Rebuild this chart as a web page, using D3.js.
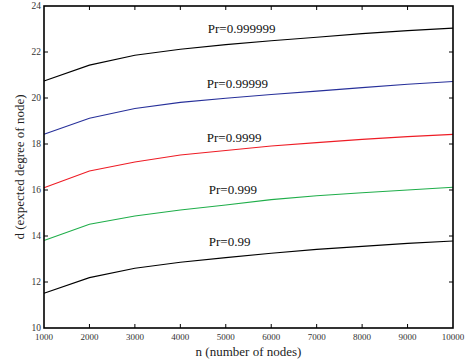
<!DOCTYPE html>
<html><head><meta charset="utf-8">
<script src="https://cdn.jsdelivr.net/npm/d3@7"></script>
<style>body{margin:0;background:#fff}svg{display:block}text{font-family:"Liberation Serif","Times New Roman",Times,serif}</style>
</head><body>
<svg id="c" width="466" height="362"></svg>
<script>
const nValues = [1000,2000,3000,4000,5000,6000,7000,8000,9000,10000];
const seriesNames = ["Pr=0.99","Pr=0.999","Pr=0.9999","Pr=0.99999","Pr=0.999999"];
const pr099 = [11.51,12.19,12.6,12.86,13.06,13.25,13.42,13.55,13.68,13.78];
const pr0999 = [13.8,14.51,14.87,15.13,15.35,15.58,15.75,15.88,16.0,16.12];
const pr09999 = [16.1,16.83,17.22,17.52,17.72,17.91,18.06,18.2,18.32,18.42];
const pr099999 = [18.42,19.12,19.54,19.81,19.99,20.15,20.3,20.45,20.6,20.72];
const pr0999999 = [20.74,21.43,21.86,22.12,22.32,22.49,22.64,22.8,22.93,23.04];
const seriesColors = ["#000000","#1fae4a","#ee1c25","#27309a","#000000"];
const xTicks = [1000,2000,3000,4000,5000,6000,7000,8000,9000,10000];
const yTicks = [10,12,14,16,18,20,22,24];
const labelAt = [5000,5000,5000,5000,5000];

const series = [pr099,pr0999,pr09999,pr099999,pr0999999];
const svg = d3.select("#c");
const L=44,R=453,T=6,B=328;
const x = d3.scaleLinear().domain([1000,10000]).range([L,R]);
const y = d3.scaleLinear().domain([10,24]).range([B,T]);

const tk = 4;
const g = svg.append("g");
xTicks.forEach(t=>{
  if(t>1000 && t<10000){
    g.append("line").attr("x1",x(t)).attr("x2",x(t)).attr("y1",B).attr("y2",B-tk).attr("stroke","#000");
    g.append("line").attr("x1",x(t)).attr("x2",x(t)).attr("y1",T).attr("y2",T+tk).attr("stroke","#000");
  }
  g.append("text").attr("x",x(t)).attr("y",B+11.5).attr("text-anchor","middle")
   .attr("font-size",9).attr("fill","#333").text(t);
});
yTicks.forEach(t=>{
  if(t>10 && t<24){
    g.append("line").attr("x1",L).attr("x2",L+tk).attr("y1",y(t)).attr("y2",y(t)).attr("stroke","#000");
    g.append("line").attr("x1",R).attr("x2",R-tk).attr("y1",y(t)).attr("y2",y(t)).attr("stroke","#000");
  }
  g.append("text").attr("x",L-3).attr("y",y(t)+3).attr("text-anchor","end")
   .attr("font-size",9.5).attr("fill","#333").text(t);
});

const line = d3.line().x((d,i)=>x(nValues[i])).y(d=>y(d));
series.forEach((s,k)=>{
  svg.append("path").attr("d",line(s)).attr("fill","none")
    .attr("stroke",seriesColors[k]).attr("stroke-width",1.1);
});

const labelOffsets = [[-17,-12],[-17,-11],[-19,-8],[-19,-10.5],[-18,-12]];
series.forEach((s,k)=>{
  const i = nValues.indexOf(labelAt[k]);
  svg.append("text").attr("x",x(labelAt[k])+labelOffsets[k][0]).attr("y",y(s[i])+labelOffsets[k][1])
    .attr("font-size",13).attr("fill","#111").text(seriesNames[k]);
});

svg.append("rect").attr("x",L).attr("y",T).attr("width",R-L).attr("height",B-T)
  .attr("fill","none").attr("stroke","#000").attr("stroke-width",1.6);

svg.append("text").attr("x",(L+R)/2).attr("y",356).attr("text-anchor","middle")
  .attr("font-size",13).attr("fill","#222").text("n (number of nodes)");
svg.append("text").attr("transform",`translate(24,${(T+B)/2}) rotate(-90)`).attr("text-anchor","middle")
  .attr("font-size",13).attr("fill","#222").text("d (expected degree of node)");
</script>
</body></html>
